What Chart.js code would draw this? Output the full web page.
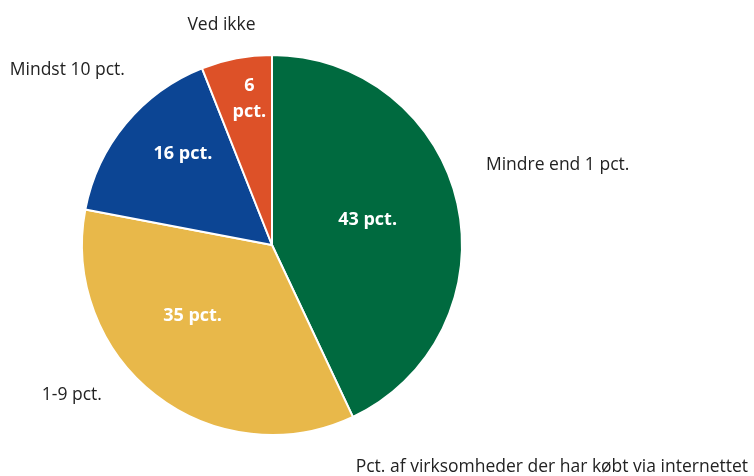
<!DOCTYPE html>
<html>
<head>
<meta charset="utf-8">
<script src="https://cdn.jsdelivr.net/npm/chart.js@4"></script>
<style>
  html, body { margin: 0; padding: 0; background: #fff; }
  #wrap { width: 754px; height: 476px; }
</style>
</head>
<body>
<div id="wrap"><canvas id="pieChart"></canvas></div>
<script>
const categories = ["Mindre end 1 pct.", "1-9 pct.", "Mindst 10 pct.", "Ved ikke"];
const shares = [43, 35, 16, 6];
const insideLabels = [["43 pct."], ["35 pct."], ["16 pct."], ["6", "pct."]];
const sliceColors = ["#006a3f", "#e8b84a", "#0c4594", "#dd5128"];
const caption = "Pct. af virksomheder der har købt via internettet";

// where the labels sit, relative to the pie (in radius units / degrees)
const insidePos = [
    { f: 0.52, turn: -2 },
    { f: 0.56, turn: 10.5 },
    { f: 0.67, turn: 6 },
    { f: 0.78, turn: 2 }
];
const outsidePos = [
    { fx: 1.126, fy: -0.42, align: "left" },
    { fx: -0.895, fy: 0.79, align: "right" },
    { fx: -0.774, fy: -0.92, align: "right" },
    { fx: -0.266, fy: -1.16, align: "center" }
];

const labelPlugin = {
    id: "pieLabels",
    afterDraw(chart) {
        const ctx = chart.ctx;
        const arcs = chart.getDatasetMeta(0).data;
        ctx.save();
        ctx.textBaseline = "middle";
        arcs.forEach((arc, i) => {
            const r = arc.outerRadius;
            const mid = (arc.startAngle + arc.endAngle) / 2 + insidePos[i].turn * Math.PI / 180;
            const x = arc.x + Math.cos(mid) * r * insidePos[i].f;
            const y = arc.y + Math.sin(mid) * r * insidePos[i].f;
            ctx.fillStyle = "#ffffff";
            ctx.font = "bold 18px 'Open Sans'";
            ctx.textAlign = "center";
            const lines = insideLabels[i];
            lines.forEach((t, k) => {
                ctx.fillText(t, x, y + (k - (lines.length - 1) / 2) * 26);
            });

            const o = outsidePos[i];
            ctx.fillStyle = "#222222";
            ctx.font = "17.5px 'Open Sans'";
            ctx.textAlign = o.align;
            ctx.fillText(categories[i], arc.x + o.fx * r, arc.y + o.fy * r);
        });
        ctx.textAlign = "right";
        ctx.fillText(caption, chart.width - 6, chart.height - 9);
        ctx.restore();
    }
};

new Chart(document.getElementById("pieChart").getContext("2d"), {
    type: "pie",
    data: {
        labels: categories,
        datasets: [{
            data: shares,
            backgroundColor: sliceColors,
            borderColor: "#ffffff",
            borderWidth: 2
        }]
    },
    options: {
        responsive: true,
        maintainAspectRatio: false,
        animation: false,
        layout: { padding: { left: 81, right: 291, top: 54, bottom: 40 } },
        plugins: {
            legend: { display: false },
            tooltip: { enabled: false }
        }
    },
    plugins: [labelPlugin]
});
</script>
</body>
</html>
